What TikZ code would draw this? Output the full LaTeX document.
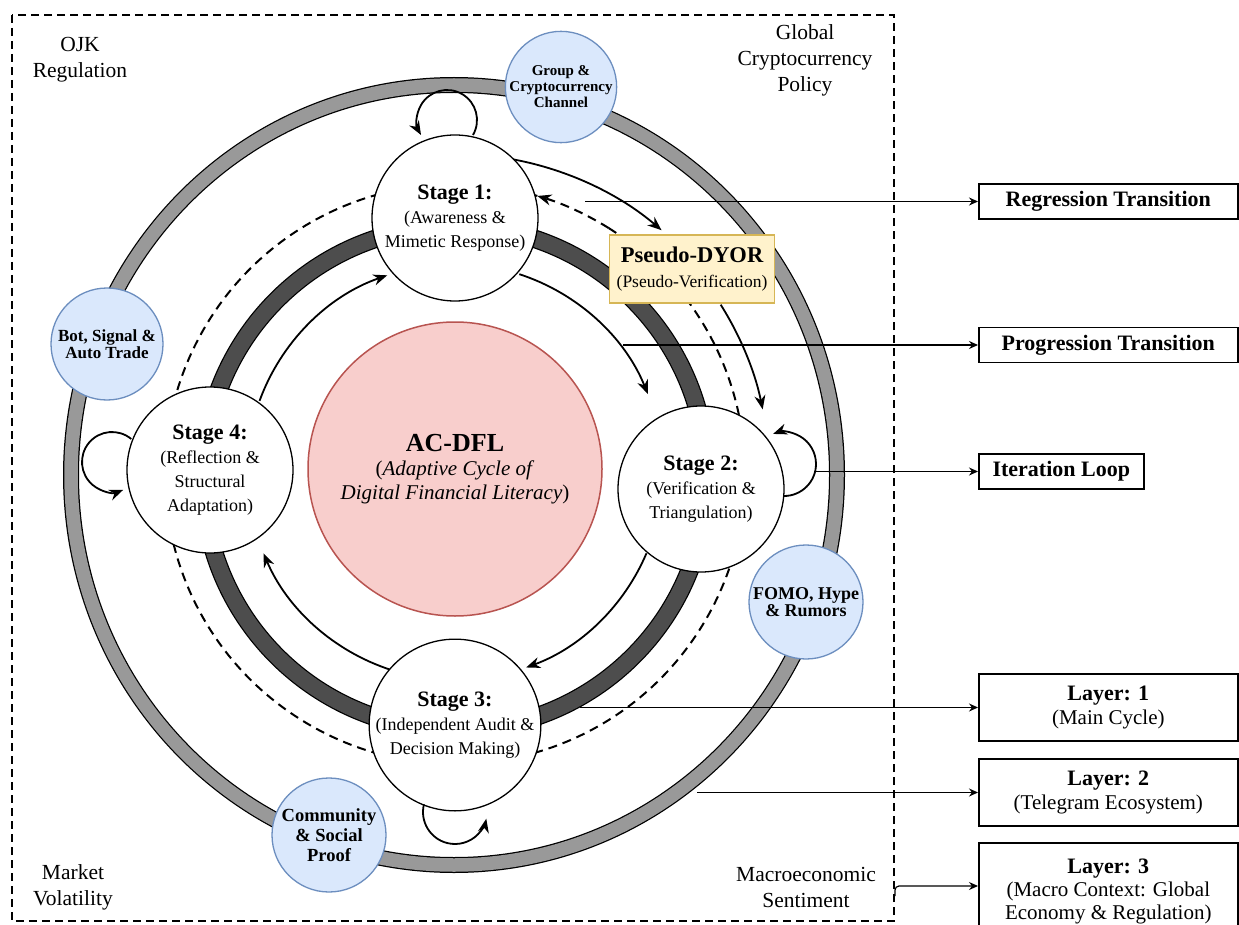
\documentclass[tikz,border=0pt]{standalone}
\usepackage{fontspec}
\setmainfont{Liberation Serif}
\usetikzlibrary{arrows.meta}
\definecolor{bluefill}{HTML}{DAE8FC}
\definecolor{blueline}{HTML}{6C8EBF}
\definecolor{redfill}{HTML}{F8CECC}
\definecolor{redline}{HTML}{B85450}
\definecolor{yelfill}{HTML}{FFF2CC}
\definecolor{yelline}{HTML}{D6B656}
\definecolor{ringgray}{HTML}{999999}
\definecolor{ringdark}{HTML}{4D4D4D}
\newcommand\fs[2]{\fontsize{#1}{#2}\selectfont}
\begin{document}
\begin{tikzpicture}[x=1pt,y=-1pt,
  stagenode/.style={circle,draw,fill=white,line width=1.3pt,minimum size=166pt,inner sep=0pt,align=center,font=\fs{18}{24}},
  bluenode/.style={circle,draw=blueline,fill=bluefill,line width=1.3pt,inner sep=0pt,align=center},
  boxnode/.style={draw,line width=1.6pt,fill=white,anchor=west,inner sep=0pt,align=center},
  cycarrow/.style={line width=1.8pt,-{Stealth[length=14pt,width=11pt]}},
  conn/.style={line width=1.2pt,-{Stealth[length=9pt,width=8pt]}},
  corner/.style={align=center,font=\fs{21.5}{26}},
  dashring/.style={line width=2pt,dash pattern=on 9pt off 6pt},
]
\useasboundingbox (0,0) rectangle (1239,925);
\fill[white] (0,0) rectangle (1239,925);

% outer frame
\draw[line width=2.4pt,dash pattern=on 8pt off 5pt] (12,15) rectangle (894,921);

% rings
\coordinate (cg) at (454,475);
\draw[line width=16pt] (cg) ellipse[x radius=383,y radius=390];
\draw[line width=13.5pt,ringgray] (cg) ellipse[x radius=383,y radius=390];
\coordinate (cd) at (455,478);
\draw[line width=18.5pt] (cd) circle[radius=252];
\draw[line width=16pt,ringdark] (cd) circle[radius=252];
\coordinate (cdash) at (455,474);
\draw[dashring] (cdash) ++(-58:290) arc[start angle=-58,end angle=286.5,radius=290];
\draw[dashring,-{Stealth[length=14pt,width=11pt]}] (cdash) ++(-58:290) arc[start angle=-58,end angle=-73.5,radius=290];

% cycle arrows (inner)
\coordinate (ci) at (455,472);
\draw[cycarrow] (ci) ++(-72:208) arc[start angle=-72,end angle=-22,radius=208];
\draw[cycarrow] (ci) ++(23:208) arc[start angle=23,end angle=70,radius=208];
\draw[cycarrow] (ci) ++(108:208) arc[start angle=108,end angle=157,radius=208];
\draw[cycarrow] (ci) ++(200:208) arc[start angle=200,end angle=251,radius=208];
% outer arrows via Pseudo-DYOR
\draw[cycarrow] (ci) ++(-79.3:318) arc[start angle=-79.3,end angle=-49.5,radius=318];
\draw[cycarrow] (ci) ++(-32.2:314) arc[start angle=-32.2,end angle=-11.5,radius=314];

% legend boxes
\node[boxnode,minimum width=259pt,minimum height=35pt,font=\fs{22}{24}\bfseries] (reg) at (978,201.5) {Regression Transition};
\node[boxnode,minimum width=259pt,minimum height=35pt,font=\fs{22}{24}\bfseries] (prog) at (978,345) {Progression Transition};
\node[boxnode,minimum width=165pt,minimum height=35pt,font=\fs{22}{24}\bfseries] (iter) at (978,471.5) {Iteration Loop};
\node[boxnode,minimum width=259pt,minimum height=67pt,font=\fs{21}{24}] (l1) at (978,707.5) {{\fs{22}{24}\bfseries Layer: 1}\\(Main Cycle)};
\node[boxnode,minimum width=259pt,minimum height=67pt,font=\fs{21}{24}] (l2) at (978,792.5) {{\fs{22}{24}\bfseries Layer: 2}\\(Telegram Ecosystem)};
\node[boxnode,minimum width=259pt,minimum height=96pt,font=\fs{21}{23}] (l3) at (978,891) {{\fs{22}{23}\bfseries Layer: 3}\\(Macro Context: Global\\Economy \& Regulation)};

% connectors
\coordinate (regs) at (585,201.5);
\coordinate (progs) at (623,345);
\coordinate (iters) at (815,471.5);
\coordinate (l1s) at (580,707.5);
\coordinate (l2s) at (697,792.5);
\coordinate (l3s) at (895,896);
\draw[conn] (regs) -- (reg.west);
\draw[conn] (progs) -- (prog.west);
\draw[conn] (iters) -- (iter.west);
\draw[conn] (l1s) -- (l1.west);
\draw[conn] (l2s) -- (l2.west);
\draw[conn,rounded corners=4pt] (l3s) |- ([yshift=5pt]l3.west);

% centre
\node[circle,draw=redline,fill=redfill,line width=1.5pt,minimum size=294pt,inner sep=0pt,align=center,font=\fs{21}{24}] (ac) at (455,469)
  {{\fs{26}{26}\bfseries AC-DFL}\\(\textit{Adaptive Cycle of}\\\textit{Digital Financial Literacy})};

% stages
\node[stagenode] (s1) at (455,218) {{\fs{22}{24}\bfseries Stage 1:}\\(Awareness \&\\Mimetic Response)};
\node[stagenode] (s2) at (701,489) {{\fs{22}{24}\bfseries Stage 2:}\\(Verification \&\\Triangulation)};
\node[stagenode] (s3) at (455,725) {{\fs{22}{24}\bfseries Stage 3:}\\(Independent Audit \&\\Decision Making)};
\node[stagenode] (s4) at (210,470) {{\fs{22}{24}\bfseries Stage 4:}\\(Reflection \&\\Structural\\Adaptation)};

% self loops
\draw[cycarrow] (447,120) ++(30:30) arc[start angle=30,end angle=-210,radius=30];
\draw[cycarrow] (784,464) ++(90:32) arc[start angle=90,end angle=-110,radius=32];
\draw[cycarrow] (455,812) ++(194:32) arc[start angle=194,end angle=12,radius=32];
\draw[cycarrow] (112,462) ++(-50:30) arc[start angle=-50,end angle=-292,radius=30];

% pseudo-DYOR
\node[draw=yelline,fill=yelfill,line width=1.3pt,minimum width=165pt,minimum height=68pt,inner sep=0pt,align=center,font=\fs{17.5}{25}] (pdyor) at (692,269)
  {{\fs{22.5}{25}\bfseries Pseudo-DYOR}\\(Pseudo-Verification)};

% ecosystem circles
\node[bluenode,minimum size=111pt,font=\fs{15}{16}\bfseries] (grp) at (561,87) {Group \&\\Cryptocurrency\\Channel};
\node[bluenode,minimum size=112pt,font=\fs{17}{17}\bfseries] (bot) at (107,344) {Bot, Signal \&\\Auto Trade};
\node[bluenode,minimum size=114pt,font=\fs{18}{17}\bfseries] (fomo) at (806,602) {FOMO, Hype\\\& Rumors};
\node[bluenode,minimum size=114pt,font=\fs{18.5}{20}\bfseries] (comm) at (329,835) {Community\\\& Social\\Proof};

% macro context labels
\node[corner] (ojk) at (80,60) {OJK\\Regulation};
\node[corner] (gcp) at (805,60) {Global\\Cryptocurrency\\Policy};
\node[corner] (mv) at (73,887) {Market\\Volatility};
\node[corner] (ms) at (806,887) {Macroeconomic\\Sentiment};
\end{tikzpicture}
\end{document}
